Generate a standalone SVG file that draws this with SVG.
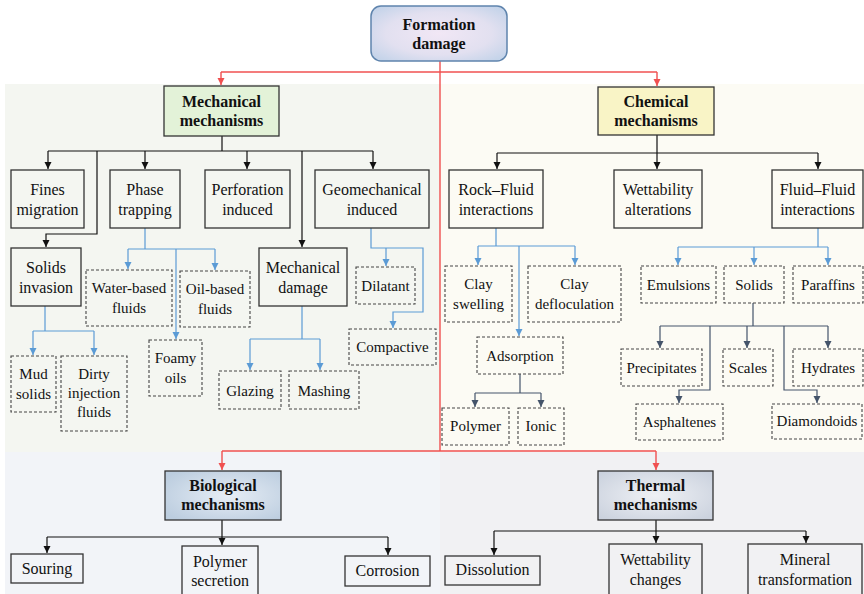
<svg xmlns="http://www.w3.org/2000/svg" width="864" height="594" viewBox="0 0 864 594">
<defs>
<radialGradient id="gForm" cx="50%" cy="50%" r="65%">
<stop offset="0" stop-color="#f1e7f5"/><stop offset="0.6" stop-color="#e2e0f0"/><stop offset="1" stop-color="#c3d3e9"/>
</radialGradient>
<radialGradient id="gBio" cx="55%" cy="50%" r="65%">
<stop offset="0" stop-color="#e6edf5"/><stop offset="1" stop-color="#bccddf"/>
</radialGradient>
<radialGradient id="gTher" cx="50%" cy="50%" r="65%">
<stop offset="0" stop-color="#eff1f5"/><stop offset="1" stop-color="#cbd2de"/>
</radialGradient>
<marker id="aK" markerWidth="8" markerHeight="8" refX="7" refY="4" orient="auto" markerUnits="userSpaceOnUse"><path d="M0,0.5 L7,4 L0,7.5 Z" fill="#111"/></marker>
<marker id="aB" markerWidth="8" markerHeight="8" refX="7" refY="4" orient="auto" markerUnits="userSpaceOnUse"><path d="M0,0.5 L7,4 L0,7.5 Z" fill="#5b9bd5"/></marker>
<marker id="aS" markerWidth="8" markerHeight="8" refX="7" refY="4" orient="auto" markerUnits="userSpaceOnUse"><path d="M0,0.5 L7,4 L0,7.5 Z" fill="#44546a"/></marker>
<marker id="aR" markerWidth="8" markerHeight="8" refX="7" refY="4" orient="auto" markerUnits="userSpaceOnUse"><path d="M0,0.5 L7,4 L0,7.5 Z" fill="#f05050"/></marker>
</defs>
<style>
text{font-family:"Liberation Serif","Times New Roman",serif;fill:#111;text-anchor:middle}
.t{font-size:16px}
.d{font-size:15px}
.b{font-size:16px;font-weight:bold}
.sb{fill:none;stroke:#333;stroke-width:1.3}
.db{fill:none;stroke:#444;stroke-width:1.1;stroke-dasharray:3 2}
.k{fill:none;stroke:#111;stroke-width:1.2}
.bl{fill:none;stroke:#5b9bd5;stroke-width:1.2}
.sl{fill:none;stroke:#44546a;stroke-width:1.2}
.r{fill:none;stroke:#f05050;stroke-width:1.4}
.ak{marker-end:url(#aK)}
.ab{marker-end:url(#aB)}
.as{marker-end:url(#aS)}
.ar{marker-end:url(#aR)}
</style>
<rect x="0" y="0" width="864" height="594" fill="#ffffff"/>
<g id="panels">
<rect x="5" y="84" width="435" height="368" fill="#f4f6f1"/>
<rect x="440" y="84" width="424" height="368" fill="#fcfbf4"/>
<rect x="5" y="452" width="435" height="142" fill="#f2f4f8"/>
<rect x="440" y="452" width="424" height="142" fill="#f1f1f3"/>
</g>
<g id="connectors">
<path class="r" d="M440,61 V451"/>
<path class="r" d="M221,72 H657"/>
<path class="r ar" d="M221,72 V85"/>
<path class="r ar" d="M657,72 V86"/>
<path class="r" d="M222,451 H656"/>
<path class="r ar" d="M222,451 V470"/>
<path class="r ar" d="M656,451 V470"/>
<path class="k" d="M222,136 V151 M48,151 H373"/>
<path class="k ak" d="M48,151 V169"/>
<path class="k ak" d="M145,151 V169"/>
<path class="k ak" d="M247,151 V169"/>
<path class="k ak" d="M373,151 V169"/>
<path class="k ak" d="M97,151 V234 H46 V247"/>
<path class="k ak" d="M302,151 V247"/>
<path class="bl" d="M145,228 V249 M128,249 H215"/>
<path class="bl ab" d="M128,249 V269"/>
<path class="bl ab" d="M215,249 V270"/>
<path class="bl ab" d="M176,249 V339"/>
<path class="bl" d="M45,306 V331 M33,331 H94"/>
<path class="bl ab" d="M33,331 V355"/>
<path class="bl ab" d="M94,331 V355"/>
<path class="bl" d="M302,306 V339 M250,339 H320"/>
<path class="bl ab" d="M250,339 V370"/>
<path class="bl ab" d="M320,339 V370"/>
<path class="bl ab" d="M371,228 V248 H423 V312 H393 V328"/>
<path class="bl ab" d="M386,248 V266"/>
<path class="k" d="M657,135 V153 M497,153 H818"/>
<path class="k ak" d="M497,153 V169"/>
<path class="k ak" d="M657,153 V169"/>
<path class="k ak" d="M818,153 V169"/>
<path class="bl" d="M496,228 V246 M478,246 H575"/>
<path class="bl ab" d="M478,246 V265"/>
<path class="bl ab" d="M575,246 V265"/>
<path class="bl ab" d="M519,246 V336"/>
<path class="bl" d="M818,228 V247 M678,247 H828"/>
<path class="bl ab" d="M678,247 V265"/>
<path class="bl ab" d="M754,247 V265"/>
<path class="bl ab" d="M828,247 V265"/>
<path class="sl" d="M520,374 V393 M475,393 H541"/>
<path class="sl as" d="M475,393 V407"/>
<path class="sl as" d="M541,393 V407"/>
<path class="sl" d="M753,303 V326 M660,326 H828"/>
<path class="sl as" d="M660,326 V348"/>
<path class="sl as" d="M747,326 V348"/>
<path class="sl as" d="M828,326 V348"/>
<path class="sl as" d="M710,326 V390 H679 V403"/>
<path class="sl as" d="M784,326 V390 H817 V403"/>
<path class="k" d="M222,520 V537 M47,537 H388"/>
<path class="k ak" d="M47,537 V553"/>
<path class="k ak" d="M222,537 V545"/>
<path class="k ak" d="M388,537 V555"/>
<path class="k" d="M656,520 V531 M494,531 H806"/>
<path class="k ak" d="M494,531 V555"/>
<path class="k ak" d="M656,531 V543"/>
<path class="k ak" d="M806,531 V543"/>
</g>
<g id="formation"><rect x="371" y="6" width="136" height="55" rx="10" fill="url(#gForm)" stroke="#5f84ad" stroke-width="1.5"/><text class="b" x="439" y="30">Formation</text><text class="b" x="439" y="49">damage</text></g>
<g id="mechanical"><rect x="164" y="86" width="115" height="50" fill="#e3f2d8" stroke="#333" stroke-width="1.3"/><text class="b" x="221.5" y="107">Mechanical</text><text class="b" x="221.5" y="126">mechanisms</text></g>
<g id="chemical"><rect x="598" y="87" width="116" height="48" fill="#f9f4c6" stroke="#333" stroke-width="1.3"/><text class="b" x="656" y="107">Chemical</text><text class="b" x="656" y="126">mechanisms</text></g>
<g id="biological"><rect x="165" y="471" width="116" height="49" fill="url(#gBio)" stroke="#333" stroke-width="1.3"/><text class="b" x="223" y="491">Biological</text><text class="b" x="223" y="510">mechanisms</text></g>
<g id="thermal"><rect x="598" y="471" width="115" height="49" fill="url(#gTher)" stroke="#333" stroke-width="1.3"/><text class="b" x="655.5" y="491">Thermal</text><text class="b" x="655.5" y="510">mechanisms</text></g>
<g id="fines"><rect class="sb" x="11" y="170" width="73" height="58"/><text class="t" x="47.5" y="195">Fines</text><text class="t" x="47.5" y="215">migration</text></g>
<g id="phase"><rect class="sb" x="110" y="170" width="70" height="58"/><text class="t" x="145" y="195">Phase</text><text class="t" x="145" y="215">trapping</text></g>
<g id="perforation"><rect class="sb" x="205" y="170" width="85" height="58"/><text class="t" x="247.5" y="195">Perforation</text><text class="t" x="247.5" y="215">induced</text></g>
<g id="geomechanical"><rect class="sb" x="315" y="170" width="114" height="58"/><text class="t" x="372" y="195">Geomechanical</text><text class="t" x="372" y="215">induced</text></g>
<g id="solids-invasion"><rect class="sb" x="11" y="248" width="70" height="58"/><text class="t" x="46" y="273">Solids</text><text class="t" x="46" y="293">invasion</text></g>
<g id="mechanical-damage"><rect class="sb" x="259" y="248" width="88" height="58"/><text class="t" x="303" y="273">Mechanical</text><text class="t" x="303" y="293">damage</text></g>
<g id="water-based"><rect class="db" x="86" y="270" width="86" height="56"/><text class="d" x="129" y="293">Water-based</text><text class="d" x="129" y="313">fluids</text></g>
<g id="oil-based"><rect class="db" x="180" y="271" width="70" height="56"/><text class="d" x="215" y="294">Oil-based</text><text class="d" x="215" y="314">fluids</text></g>
<g id="foamy"><rect class="db" x="149" y="340" width="53" height="56"/><text class="d" x="175.5" y="363">Foamy</text><text class="d" x="175.5" y="383">oils</text></g>
<g id="dilatant"><rect class="db" x="356" y="267" width="59" height="37"/><text class="d" x="385.5" y="291">Dilatant</text></g>
<g id="compactive"><rect class="db" x="349" y="329" width="87" height="36"/><text class="d" x="392.5" y="352">Compactive</text></g>
<g id="mud"><rect class="db" x="11" y="356" width="45" height="56"/><text class="d" x="33.5" y="379">Mud</text><text class="d" x="33.5" y="399">solids</text></g>
<g id="dirty"><rect class="db" x="61" y="356" width="66" height="75"/><text class="d" x="94" y="379">Dirty</text><text class="d" x="94" y="398">injection</text><text class="d" x="94" y="417">fluids</text></g>
<g id="glazing"><rect class="db" x="219" y="371" width="62" height="38"/><text class="d" x="250" y="396">Glazing</text></g>
<g id="mashing"><rect class="db" x="289" y="371" width="70" height="38"/><text class="d" x="324" y="396">Mashing</text></g>
<g id="rock-fluid"><rect class="sb" x="449" y="170" width="94" height="58"/><text class="t" x="496" y="195">Rock–Fluid</text><text class="t" x="496" y="215">interactions</text></g>
<g id="wettability-alt"><rect class="sb" x="614" y="170" width="88" height="58"/><text class="t" x="658" y="195">Wettability</text><text class="t" x="658" y="215">alterations</text></g>
<g id="fluid-fluid"><rect class="sb" x="772" y="170" width="91" height="58"/><text class="t" x="817.5" y="195">Fluid–Fluid</text><text class="t" x="817.5" y="215">interactions</text></g>
<g id="clay-swelling"><rect class="db" x="445" y="266" width="67" height="56"/><text class="d" x="478.5" y="289">Clay</text><text class="d" x="478.5" y="309">swelling</text></g>
<g id="clay-defloc"><rect class="db" x="528" y="266" width="93" height="56"/><text class="d" x="574.5" y="289">Clay</text><text class="d" x="574.5" y="309">defloculation</text></g>
<g id="adsorption"><rect class="db" x="477" y="337" width="86" height="37"/><text class="d" x="520" y="361">Adsorption</text></g>
<g id="polymer"><rect class="db" x="442" y="408" width="67" height="37"/><text class="d" x="475.5" y="431">Polymer</text></g>
<g id="ionic"><rect class="db" x="518" y="408" width="46" height="37"/><text class="d" x="541" y="431">Ionic</text></g>
<g id="emulsions"><rect class="db" x="641" y="266" width="75" height="37"/><text class="d" x="678.5" y="290">Emulsions</text></g>
<g id="solids"><rect class="db" x="724" y="266" width="60" height="37"/><text class="d" x="754" y="290">Solids</text></g>
<g id="paraffins"><rect class="db" x="793" y="266" width="70" height="37"/><text class="d" x="828" y="290">Paraffins</text></g>
<g id="precipitates"><rect class="db" x="621" y="349" width="81" height="37"/><text class="d" x="661.5" y="373">Precipitates</text></g>
<g id="scales"><rect class="db" x="723" y="349" width="50" height="37"/><text class="d" x="748" y="373">Scales</text></g>
<g id="hydrates"><rect class="db" x="793" y="349" width="70" height="37"/><text class="d" x="828" y="373">Hydrates</text></g>
<g id="asphaltenes"><rect class="db" x="636" y="404" width="87" height="36"/><text class="d" x="679.5" y="427">Asphaltenes</text></g>
<g id="diamondoids"><rect class="db" x="772" y="404" width="90" height="35"/><text class="d" x="817" y="426">Diamondoids</text></g>
<g id="souring"><rect class="sb" x="11" y="554" width="72" height="29"/><text class="t" x="47" y="574">Souring</text></g>
<g id="polymer-secretion"><rect class="sb" x="182" y="546" width="76" height="52"/><text class="t" x="220" y="567">Polymer</text><text class="t" x="220" y="586">secretion</text></g>
<g id="corrosion"><rect class="sb" x="345" y="556" width="85" height="30"/><text class="t" x="387.5" y="576">Corrosion</text></g>
<g id="dissolution"><rect class="sb" x="445" y="556" width="95" height="29"/><text class="t" x="492.5" y="575">Dissolution</text></g>
<g id="wettability-changes"><rect class="sb" x="609" y="544" width="93" height="52"/><text class="t" x="655.5" y="565">Wettability</text><text class="t" x="655.5" y="585">changes</text></g>
<g id="mineral"><rect class="sb" x="748" y="544" width="114" height="52"/><text class="t" x="805" y="565">Mineral</text><text class="t" x="805" y="585">transformation</text></g>
</svg>
